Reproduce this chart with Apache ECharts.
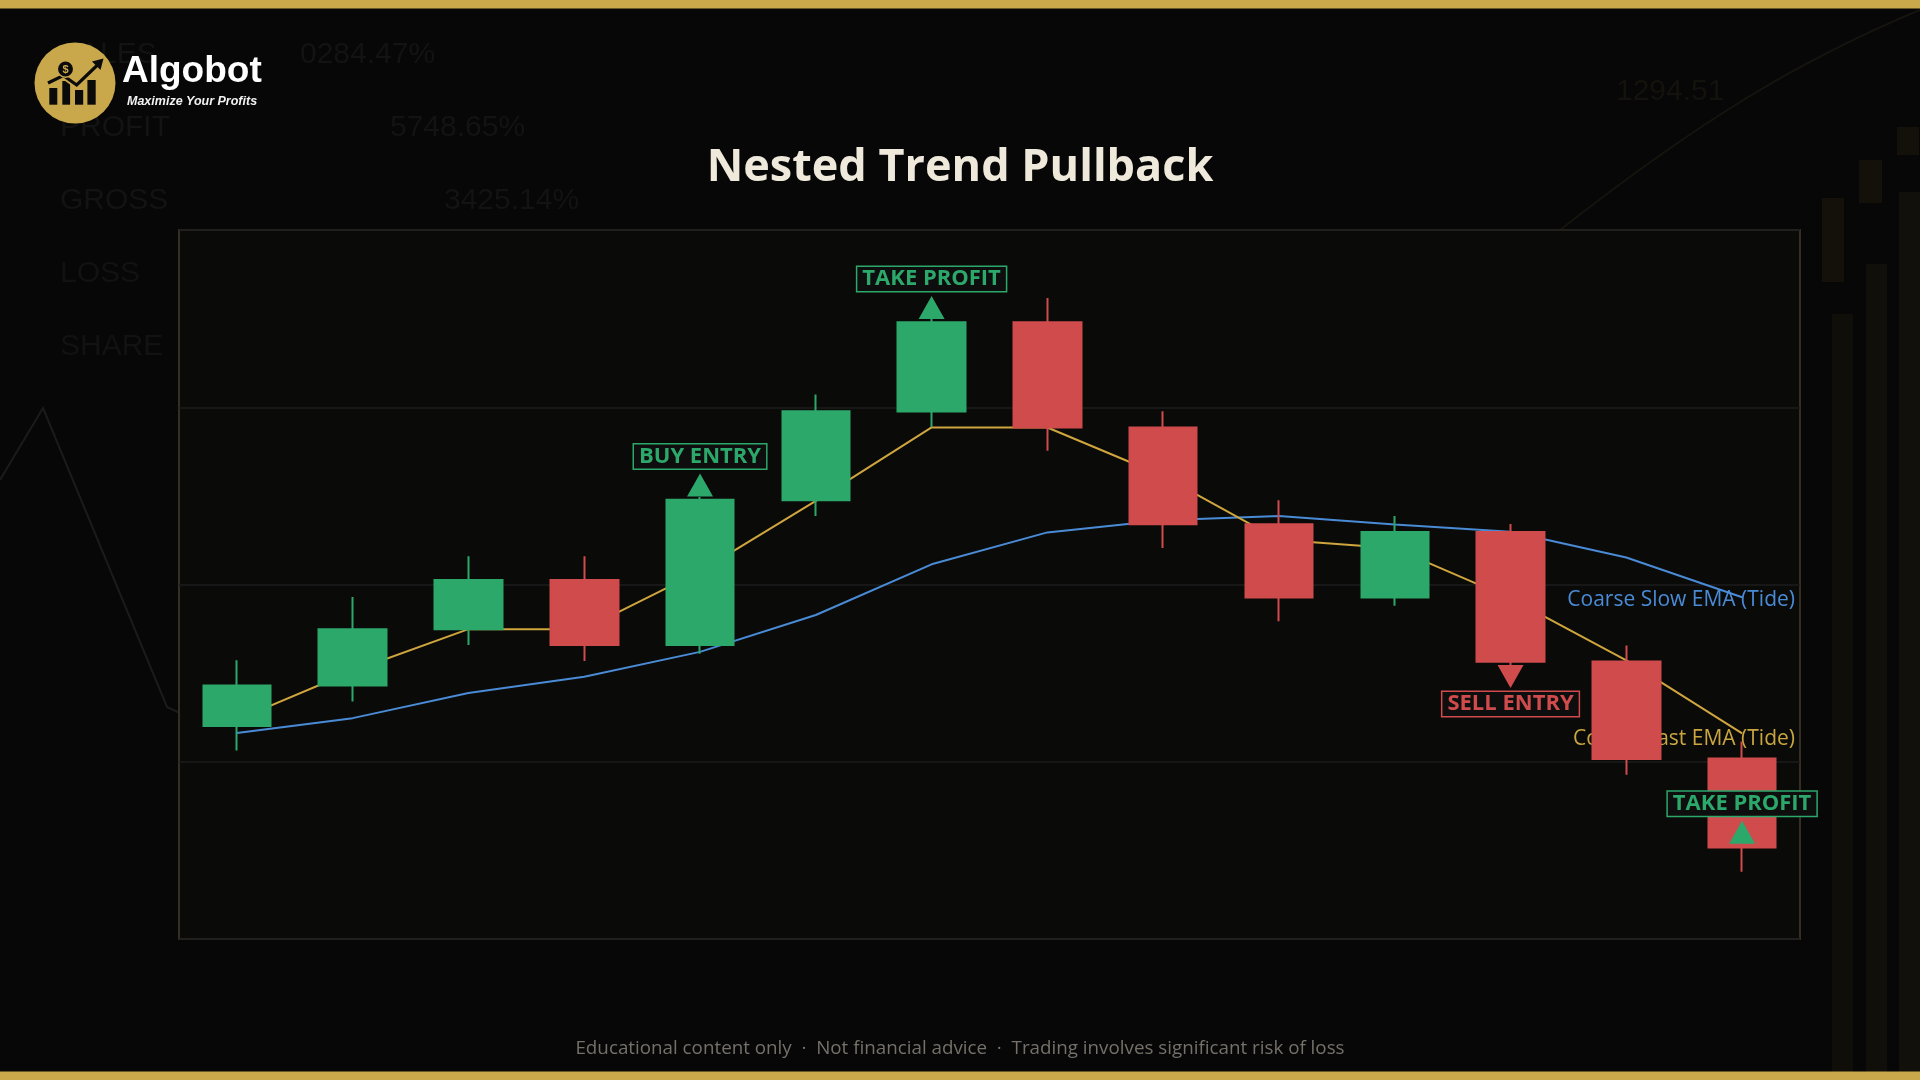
<!DOCTYPE html>
<html><head><meta charset="utf-8">
<script src="https://cdn.jsdelivr.net/npm/echarts@6/dist/echarts.min.js"></script>
<style>html,body{margin:0;padding:0;background:#070707;}#c{width:1920px;height:1080px;}</style>
</head><body><div id="c"></div>
<script>
// ---- data ----
const categories = ['1','2','3','4','5','6','7','8','9','10','11','12','13','14'];
const openValues  = [106.01,107.15,108.74,110.13,108.29,112.38,114.88,117.40,114.43,111.70,109.63,111.48,107.83,105.09];
const closeValues = [107.15,108.74,110.13,108.29,112.39,114.89,117.40,114.43,111.70,109.63,111.48,107.82,105.08,102.58];
const lowValues   = [105.32,106.70,108.29,107.84,108.05,111.93,114.44,113.77,111.03,108.96,109.40,107.73,104.63,101.90];
const highValues  = [107.86,109.65,110.80,110.80,112.47,115.36,117.49,118.08,114.89,112.38,111.93,111.71,108.28,105.57];
const fastEma = [106.18,107.56,108.74,108.74,110.37,112.36,114.43,114.43,113.06,111.26,111.02,109.61,107.86,105.80];
const slowEma = [105.81,106.23,106.94,107.40,108.10,109.14,110.57,111.47,111.81,111.93,111.69,111.49,110.76,109.64];
const signalIndex = [4,6,11,13];
const signalPrice = [112.48,117.49,107.73,102.69];
const signalText  = ['BUY ENTRY','TAKE PROFIT','SELL ENTRY','TAKE PROFIT'];
const signalSide  = ['up','up','down','up'];
const yTicks = [100,105,110,115,120];
const fastLabel = 'Coarse Fast EMA (Tide)';
const slowLabel = 'Coarse Slow EMA (Tide)';
const titleText = 'Nested Trend Pullback';
const footerText = 'Educational content only  ·  Not financial advice  ·  Trading involves significant risk of loss';

// ---- styles ----
const UP = '#2ca86b', DOWN = '#d04b4c', GOLD = '#cfa63e', BLUE = '#4a8bd6', BRAND = '#c9a84c';

const chart = echarts.init(document.getElementById('c'), null, {renderer:'canvas'});

const candleData = categories.map((c,i)=>[openValues[i], closeValues[i], lowValues[i], highValues[i]]);
const signalData = signalIndex.map((idx,k)=>{
  const col = signalText[k].indexOf('SELL')>=0 ? DOWN : UP;
  const up = signalSide[k]==='up';
  return {
    value:[idx, signalPrice[k]],
    symbol: up ? 'triangle' : 'path://M0,0L20,0L10,18Z',
    symbolSize:[26,23],
    symbolOffset:[0, up ? -11.5 : 11.5],
    itemStyle:{color: col, opacity:1},
    label:{
      show:true, position: up ? 'top' : 'bottom', distance: up ? 5 : 4,
      formatter: signalText[k], color: col,
      fontFamily:'Open Sans', fontWeight:'bold', fontSize:22, lineHeight:22,
      backgroundColor:'#0e0e0e', borderColor: col, borderWidth:1.5,
      padding:[1,5,1,5]
    }
  };
});

const decoFont = '30px "Liberation Sans Narrow", "Liberation Sans", sans-serif';
const bgDecor = [
  {type:'text', x:60, y:55, style:{text:'SALES', fill:'#131313', font:decoFont, verticalAlign:'middle'}},
  {type:'text', x:300, y:55, style:{text:'0284.47%', fill:'#131313', font:decoFont, verticalAlign:'middle'}},
  {type:'text', x:60, y:128, style:{text:'PROFIT', fill:'#131313', font:decoFont, verticalAlign:'middle'}},
  {type:'text', x:390, y:128, style:{text:'5748.65%', fill:'#131313', font:decoFont, verticalAlign:'middle'}},
  {type:'text', x:60, y:201, style:{text:'GROSS', fill:'#131313', font:decoFont, verticalAlign:'middle'}},
  {type:'text', x:444, y:201, style:{text:'3425.14%', fill:'#131313', font:decoFont, verticalAlign:'middle'}},
  {type:'text', x:60, y:274, style:{text:'LOSS', fill:'#121212', font:decoFont, verticalAlign:'middle'}},
  {type:'text', x:60, y:347, style:{text:'SHARE', fill:'#121212', font:decoFont, verticalAlign:'middle'}},
  {type:'text', x:1616, y:92, style:{text:'1294.51', fill:'#14120d', font:decoFont, verticalAlign:'middle'}},
  {type:'polyline', shape:{points:[[0,480],[43,408],[167,707],[180,713]]}, style:{stroke:'#1b1b1b', lineWidth:2, fill:null}},
  {type:'rect', shape:{x:1832,y:314,width:21,height:766}, style:{fill:'#100e09'}},
  {type:'rect', shape:{x:1866,y:264,width:21,height:816}, style:{fill:'#110f09'}},
  {type:'rect', shape:{x:1899,y:192,width:21,height:888}, style:{fill:'#12100a'}},
  {type:'rect', shape:{x:1822,y:198,width:22,height:84}, style:{fill:'#14110a'}},
  {type:'rect', shape:{x:1859,y:160,width:23,height:43}, style:{fill:'#14110a'}},
  {type:'rect', shape:{x:1897,y:127,width:22,height:28}, style:{fill:'#14110a'}},
  {type:'bezierCurve', shape:{x1:1560,y1:230,x2:1920,y2:10,cpx1:1700,cpy1:120,cpx2:1800,cpy2:60}, style:{stroke:'#16140e', lineWidth:2, fill:null}}
].map(e=>Object.assign(e,{z:-10, silent:true}));

const logo = [
  {type:'circle', shape:{cx:75, cy:83, r:40.5}, style:{fill:BRAND}},
  {type:'rect', shape:{x:49.3,y:88,width:8,height:16.7}, style:{fill:'#0b0b0b'}},
  {type:'rect', shape:{x:62.3,y:81,width:7.8,height:23.7}, style:{fill:'#0b0b0b'}},
  {type:'rect', shape:{x:75,y:90,width:8.2,height:14.7}, style:{fill:'#0b0b0b'}},
  {type:'rect', shape:{x:87.4,y:80,width:8.3,height:24.7}, style:{fill:'#0b0b0b'}},
  {type:'polyline', shape:{points:[[48,83],[63.3,75.5],[76.7,85],[97.5,65]]}, style:{stroke:BRAND, lineWidth:7, fill:null}},
  {type:'polyline', shape:{points:[[48,83],[63.3,75.5],[76.7,85],[97.5,65]]}, style:{stroke:'#0b0b0b', lineWidth:3.2, fill:null}},
  {type:'polygon', shape:{points:[[103.5,58.5],[92,61.5],[100.5,70]]}, style:{fill:'#0b0b0b'}},
  {type:'circle', shape:{cx:65.5, cy:69, r:8.2}, style:{fill:'#0b0b0b', stroke:BRAND, lineWidth:1.5}},
  {type:'text', x:65.5, y:69.5, style:{text:'$', fill:BRAND, font:'bold 11px "Liberation Sans", Arial, sans-serif', align:'center', verticalAlign:'middle'}},
  {type:'text', x:122, y:72, style:{text:'Algobot', fill:'#ffffff', font:'bold 37px "Liberation Sans", Arial, sans-serif', verticalAlign:'middle'}},
  {type:'text', x:127, y:102, style:{text:'Maximize Your Profits', fill:'#f2f2f2', font:'italic bold 12.5px "Liberation Sans", Arial, sans-serif', verticalAlign:'middle'}}
].map(e=>Object.assign(e,{z:5}));

const frame = [
  {type:'rect', shape:{x:0,y:0,width:1920,height:8.5}, style:{fill:BRAND}, z:10},
  {type:'rect', shape:{x:0,y:1071.5,width:1920,height:8.5}, style:{fill:BRAND}, z:10},
  {type:'text', x:960, y:168, style:{text:titleText, fill:'#efe9dc', font:'bold 45px "Open Sans", sans-serif', align:'center', verticalAlign:'middle'}, z:5},
  {type:'text', x:960, y:1049, style:{text:footerText, fill:'#75716a', font:'18.8px "Open Sans", sans-serif', align:'center', verticalAlign:'middle'}, z:5}
];

const option = {
  animation:false,
  backgroundColor:'#070707',
  grid:{left:179, top:230, width:1621, height:709, show:true, backgroundColor:'#0a0a09', borderColor:'#352f21', borderWidth:2},
  xAxis:{type:'category', data:categories, boundaryGap:true, axisLine:{show:false}, axisTick:{show:false}, axisLabel:{show:false}, splitLine:{show:false}},
  yAxis:{type:'value', min:yTicks[0], max:yTicks[yTicks.length-1], interval:yTicks[1]-yTicks[0], axisLine:{show:false}, axisTick:{show:false}, axisLabel:{show:false},
         splitLine:{show:true, lineStyle:{color:'#1d1d1c', width:1.5}}},
  series:[
    {name:slowLabel, type:'line', data:slowEma, symbol:'none', z:2, lineStyle:{color:BLUE, width:2}},
    {name:fastLabel, type:'line', data:fastEma, symbol:'none', z:2, lineStyle:{color:GOLD, width:2}},
    {name:'Price', type:'candlestick', data:candleData, barWidth:68, z:3,
     itemStyle:{color:UP, color0:DOWN, borderColor:UP, borderColor0:DOWN, borderWidth:2}},
    {name:'Signals', type:'scatter', data:signalData, z:4}
  ]
};
chart.setOption(option);

const last = categories.length-1;
const pSlow = chart.convertToPixel({gridIndex:0}, [last, slowEma[last]]);
const pFast = chart.convertToPixel({gridIndex:0}, [last, fastEma[last]]);
const rightEdge = chart.convertToPixel({gridIndex:0}, [last, yTicks[0]])[0] + 1621/categories.length/2 - 5;
const emaLabels = [
  {type:'text', x:rightEdge, y:pSlow[1]+3, z:1, silent:true, style:{text:slowLabel, fill:BLUE, font:'21px "Open Sans", sans-serif', align:'right', verticalAlign:'middle'}},
  {type:'text', x:rightEdge, y:pFast[1]+5.5, z:1, silent:true, style:{text:fastLabel, fill:'#c9a640', font:'21px "Open Sans", sans-serif', align:'right', verticalAlign:'middle'}}
];
chart.setOption({graphic: bgDecor.concat(logo, frame, emaLabels)});
</script></body></html>
